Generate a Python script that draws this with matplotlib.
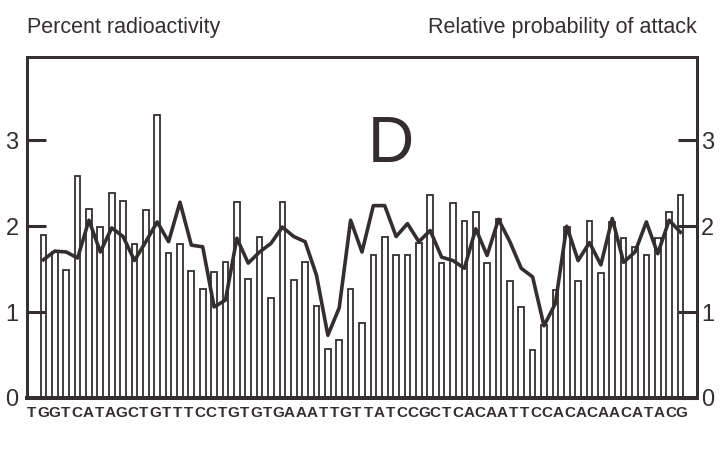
import numpy as np
import matplotlib.pyplot as plt
from matplotlib.transforms import blended_transform_factory

# Sequence along the bottom
sequence = "TGGTCATAGCTGTTTCCTGTGTGAAATTGTTATCCGCTCACAATTCCACACAACATACG"

# Percent radioactivity (bars), one per position
radioactivity = [1.90, 1.70, 1.49, 2.59, 2.20, 1.99, 2.39, 2.29, 1.79, 2.19,
                 3.29, 1.69, 1.79, 1.48, 1.27, 1.47, 1.58, 2.28, 1.38, 1.88,
                 1.17, 2.28, 1.37, 1.58, 1.07, 0.57, 0.67, 1.27, 0.87, 1.66,
                 1.87, 1.66, 1.66, 1.80, 2.36, 1.57, 2.27, 2.06, 2.17, 1.57,
                 2.08, 1.36, 1.06, 0.56, 0.85, 1.26, 1.99, 1.36, 2.06, 1.46,
                 2.05, 1.86, 1.76, 1.66, 1.86, 2.17, 2.36]

# Relative probability of attack (line)
probability = [1.61, 1.71, 1.70, 1.63, 2.07, 1.70, 1.98, 1.88, 1.60, 1.82,
               2.05, 1.82, 2.28, 1.78, 1.76, 1.06, 1.14, 1.86, 1.57, 1.70,
               1.80, 1.99, 1.88, 1.82, 1.43, 0.73, 1.05, 2.07, 1.70, 2.24,
               2.24, 1.88, 2.03, 1.82, 1.95, 1.64, 1.60, 1.51, 1.97, 1.66,
               2.08, 1.82, 1.51, 1.41, 0.84, 1.10, 2.00, 1.60, 1.81, 1.55,
               2.09, 1.58, 1.70, 2.05, 1.68, 2.07, 1.93]

yticks = [0, 1, 2, 3]

ink = '#352e2e'
font = ['Liberation Sans', 'DejaVu Sans']

fig = plt.figure(figsize=(7.21, 4.49), dpi=100)
ax = fig.add_axes([0.0374, 0.1136, 0.9293, 0.7594])
ax2 = ax.twinx()

x = np.arange(len(radioactivity))
ax.bar(x, radioactivity, width=0.5, facecolor='white', edgecolor=ink, linewidth=1.3)
ax2.plot(x, probability, color=ink, linewidth=2.6)

for a in (ax, ax2):
    a.set_xlim(-1.45, 57.45)
    a.set_ylim(0, 3.97)
    a.set_yticks(yticks)
    a.set_xticks([])
    for s in a.spines.values():
        s.set_linewidth(2.0)
        s.set_color(ink)
    a.spines['bottom'].set_linewidth(2.8)

ax.tick_params(axis='y', direction='in', length=14, width=2.2, colors=ink, pad=6,
               labelsize=17)
ax2.tick_params(axis='y', direction='in', length=14, width=2.2, colors=ink, pad=3,
                labelsize=17)
for lab in ax.get_yticklabels() + ax2.get_yticklabels():
    lab.set_family(font)
    lab.set_color(ink)

# Headers
fig.text(27 / 721, 1 - 28 / 449, "Percent radioactivity", family=font, fontsize=15.5,
         color=ink, ha='left', va='center')
fig.text(697 / 721, 1 - 28 / 449, "Relative probability of attack", family=font,
         fontsize=15.5, color=ink, ha='right', va='center')

# Panel letter
ax.text(30.5, 2.95, "D", family=font, fontsize=46, color=ink, ha='center', va='center')

# Sequence letters
trans = blended_transform_factory(ax.transData, ax.transAxes)
letter_x = np.linspace(-1.01, 56.1, len(sequence))
for lx, ch in zip(letter_x, sequence):
    ax.text(lx, -0.045, ch, transform=trans, family=font, fontsize=11,
            fontweight='bold', color=ink, ha='center', va='center')

plt.savefig("out.png", dpi=100)
